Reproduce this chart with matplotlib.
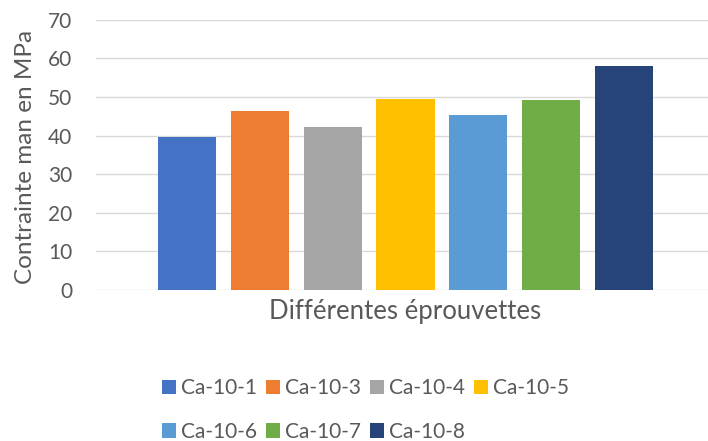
import matplotlib
matplotlib.use("Agg")
import matplotlib.pyplot as plt
from matplotlib.patches import Patch

# single category, one bar per specimen
specimens = ["Ca-10-1", "Ca-10-3", "Ca-10-4", "Ca-10-5", "Ca-10-6", "Ca-10-7", "Ca-10-8"]
stress = [39.6, 46.3, 42.2, 49.4, 45.3, 49.2, 58.0]
colors = ["#4472C4", "#ED7D31", "#A5A5A5", "#FFC000", "#5B9BD5", "#70AD47", "#264478"]
yticks = [0, 10, 20, 30, 40, 50, 60, 70]

TXT = "#595959"
GRID = "#D9D9D9"
plt.rcParams["font.family"] = ["Lato", "DejaVu Sans"]

W, H = 708, 441
fig = plt.figure(figsize=(W / 100, H / 100), dpi=100)
ax = fig.add_axes([96 / W, 1 - 290 / H, 619 / W, 270.3 / H])

x = list(range(len(specimens)))
bars = ax.bar(x, stress, width=0.797, color=colors, zorder=3)

ax.set_xlim(-1.25, 7.25)
ax.set_ylim(0, 70)
ax.set_yticks(yticks)
ax.set_xticks([])
ax.yaxis.grid(True, color=GRID, linewidth=1.0, zorder=0)
ax.tick_params(axis="y", length=0, pad=17, labelsize=15, labelcolor=TXT)
for s in ax.spines.values():
    s.set_visible(False)

fig.text(26 / W, 1 - 157 / H, "Contrainte man en MPa", rotation=90,
         ha="center", va="center", fontsize=17.5, color=TXT)
fig.text(405 / W, 1 - 312 / H, "Différentes éprouvettes",
         ha="center", va="center", fontsize=18.5, color=TXT)

# legend: two rows, filled row by row
handles = [Patch(facecolor=c) for c in colors]
order = [0, 4, 1, 5, 2, 6, 3]
leg = fig.legend([handles[i] for i in order], [specimens[i] for i in order],
                 ncol=4, loc="upper left", bbox_to_anchor=(162 / W, 1 - 378 / H),
                 frameon=False, fontsize=15, handlelength=0.67, handleheight=0.67,
                 handletextpad=0.24, columnspacing=0.43, labelspacing=1.14,
                 borderpad=0, borderaxespad=0, labelcolor=TXT)

fig.savefig("out.png", dpi=100)
